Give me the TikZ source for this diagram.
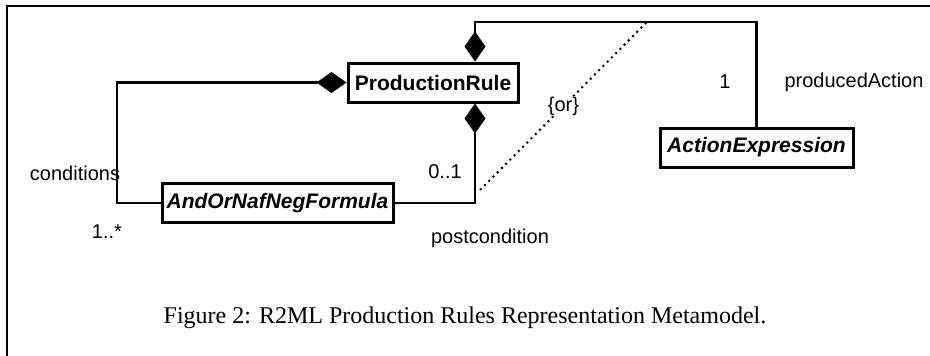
\documentclass[tikz,border=0pt]{standalone}
\usepackage{fontspec}
\setmainfont{Liberation Serif}
\setsansfont{Liberation Sans}
\usepackage{tikz}
\usetikzlibrary{arrows.meta}
\tikzstyle{classbox}=[rectangle,draw=black,fill=white,line width=3pt,minimum height=39pt,inner sep=0pt,font=\sffamily\bfseries\fontsize{21}{21}\selectfont]
\tikzstyle{assoc} = [draw,line width=2.8pt]
\tikzstyle{comp} = [draw,line width=2.8pt,-{Diamond[length=30pt,width=21pt]}]
\tikzstyle{role} = [font=\sffamily\fontsize{20}{20}\selectfont]
\tikzstyle{constraint} = [draw,line width=2pt,dash pattern=on 2pt off 4pt]

\begin{document}
\begin{tikzpicture}[x=1pt,y=-1pt]

  \useasboundingbox (0,0) rectangle (930,356);
  \draw[line width=2pt] (7,356) -- (7,6) -- (930,6);

   \foreach \x/\y/\w/\name/\label in {433/82.5/170/prule/ProductionRule, 277.5/203/231/formula/\textit{AndOrNafNegFormula}, 756.5/147.5/193/action/\textit{ActionExpression}}
          \node[classbox, minimum width=\w] (\name) at (\x,\y) {\label};

   \foreach \x/\y/\name/\label in {75/173/lcond/conditions, 107/232/lmany/1..*, 445/172/lopt/0..1, 490/238/lpost/postcondition, 725/82/lone/1, 854/82/lprod/producedAction}
          \node[role] (\name) at (\x,\y) {\label};

  \coordinate (cbend) at (117,82.5);
  \coordinate (pbend) at (475,203);
  \coordinate (abend) at (475,22);
  \coordinate (orlow) at (480,190);
  \coordinate (orhigh) at (647,22);

  \path[comp] (formula.west) -| (cbend) -- (prule.west);
  \path[comp] (formula.east) -- (pbend) -- (pbend |- prule.south);
  \path[comp] (action.north) |- (abend) -- (abend |- prule.north);
  \path[constraint] (orlow) -- node[role, fill=white, inner sep=1pt] {\{or\}} (orhigh);

  \node[font=\fontsize{24}{24}\selectfont] (caption) at (465,318) {Figure 2: R2ML Production Rules Representation Metamodel.};

   \end{tikzpicture}
\end{document}
